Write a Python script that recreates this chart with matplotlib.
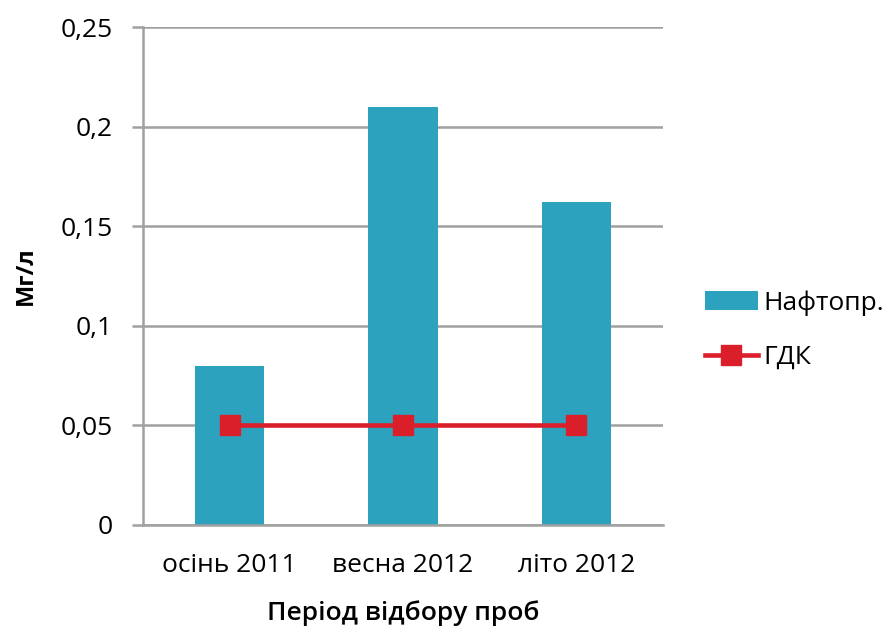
import matplotlib
matplotlib.use("Agg")
import matplotlib.pyplot as plt
import numpy as np

categories = ["осінь 2011", "весна 2012", "літо 2012"]
naftopr = [0.08, 0.21, 0.162]
gdk = [0.05, 0.05, 0.05]
yticks = [0, 0.05, 0.1, 0.15, 0.2, 0.25]
ytick_labels = ["0", "0,05", "0,1", "0,15", "0,2", "0,25"]

plt.rcParams['font.family'] = ['Open Sans', 'DejaVu Sans']

fig = plt.figure(figsize=(8.89, 6.30), dpi=100)
ax = fig.add_axes([0.1609, 0.1667, 0.585, 0.790])

x = np.arange(len(categories))
bar_color = "#2CA2BF"
red = "#DA1F2B"
grid_c = "#A0A0A0"

bars = ax.bar(x, naftopr, width=0.4, color=bar_color, label="Нафтопр.", zorder=2)
line, = ax.plot(x, gdk, color=red, lw=3.3, marker="s", markersize=14, label="ГДК", zorder=3)

ax.set_xlim(-0.5, 2.5)
ax.set_ylim(0, 0.25)
ax.set_yticks(yticks)
ax.set_yticklabels(ytick_labels)
ax.set_xticks(x)
ax.set_xticklabels(categories)

ax.yaxis.grid(True, color=grid_c, lw=1.8, zorder=0)
ax.set_axisbelow(True)
for s in ["top", "right"]:
    ax.spines[s].set_visible(False)
for s in ["left", "bottom"]:
    ax.spines[s].set_color(grid_c)
    ax.spines[s].set_linewidth(1.8)

ax.tick_params(axis="y", length=8, width=1.8, color=grid_c, labelsize=19, pad=14)
ax.tick_params(axis="x", length=0, labelsize=19, pad=20)

ax.set_ylabel("Мг/л", fontsize=17, fontweight="bold", labelpad=16)
ax.set_xlabel("Період відбору проб", fontsize=19, fontweight="semibold", labelpad=16)

leg = fig.legend([bars, line], ["Нафтопр.", "ГДК"], loc="center left",
                 bbox_to_anchor=(0.793, 0.4762), bbox_transform=fig.transFigure,
                 frameon=False, fontsize=19, handlelength=2.0, handletextpad=0.2,
                 labelspacing=1.1, borderpad=0, borderaxespad=0)

fig.savefig("out.png", dpi=100)
